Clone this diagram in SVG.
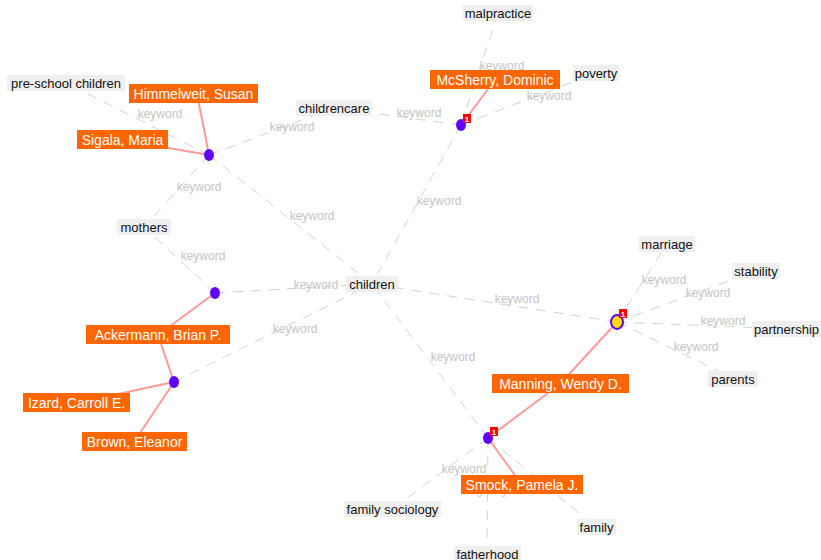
<svg xmlns="http://www.w3.org/2000/svg" width="821" height="560" viewBox="0 0 821 560">
<style>
.kw line{stroke:#d2d2d2;stroke-width:1;stroke-dasharray:10 8;fill:none}
.el{font-family:"Liberation Sans",Arial,sans-serif;font-size:12px;fill:#c4c4c4;text-anchor:middle}
.pl{stroke:#ff9a9a;stroke-width:2;fill:none}
.hub{fill:#6000ff}
.kbg{fill:#efefef}
.kt{font-family:"Liberation Sans",Arial,sans-serif;font-size:13px;fill:#111;text-anchor:middle}
.pbg{fill:#ff6600}
.pt{font-family:"Liberation Sans",Arial,sans-serif;font-size:14px;fill:#fff;text-anchor:middle}
.bd{fill:#ff0000}
.bt{font-family:"Liberation Sans",Arial,sans-serif;font-size:8px;font-weight:bold;fill:#fff;text-anchor:middle}
</style>
<rect width="821" height="560" fill="#fff"/>
<g id="connectors">
<g class="kw">
<line x1="209" y1="155" x2="66" y2="83"/>
<line x1="209" y1="155" x2="334" y2="108"/>
<line x1="209" y1="155" x2="144" y2="227"/>
<line x1="209" y1="155" x2="372" y2="284"/>
<line x1="461" y1="125" x2="498" y2="13"/>
<line x1="461" y1="125" x2="596" y2="73"/>
<line x1="461" y1="125" x2="334" y2="108"/>
<line x1="461" y1="125" x2="372" y2="284"/>
<line x1="215" y1="293" x2="144" y2="227"/>
<line x1="215" y1="293" x2="372" y2="284"/>
<line x1="174" y1="382" x2="372" y2="284"/>
<line x1="617" y1="322" x2="372" y2="284"/>
<line x1="617" y1="322" x2="667" y2="244"/>
<line x1="617" y1="322" x2="756" y2="271"/>
<line x1="617" y1="322" x2="786" y2="329"/>
<line x1="617" y1="322" x2="733" y2="378"/>
<line x1="488" y1="438" x2="372" y2="284"/>
<line x1="488" y1="438" x2="392" y2="509"/>
<line x1="488" y1="438" x2="596" y2="527"/>
<line x1="488" y1="438" x2="487" y2="553"/>
</g>
<g>
<text class="el" x="160" y="118">keyword</text>
<text class="el" x="292" y="131">keyword</text>
<text class="el" x="199" y="191">keyword</text>
<text class="el" x="312" y="220">keyword</text>
<text class="el" x="502" y="70">keyword</text>
<text class="el" x="549" y="100">keyword</text>
<text class="el" x="419" y="117">keyword</text>
<text class="el" x="439" y="205">keyword</text>
<text class="el" x="203" y="260">keyword</text>
<text class="el" x="316" y="289">keyword</text>
<text class="el" x="295" y="333">keyword</text>
<text class="el" x="517" y="303">keyword</text>
<text class="el" x="664" y="284">keyword</text>
<text class="el" x="708" y="297">keyword</text>
<text class="el" x="723" y="325">keyword</text>
<text class="el" x="696" y="351">keyword</text>
<text class="el" x="453" y="361">keyword</text>
<text class="el" x="464" y="473">keyword</text>
<text class="el" x="512" y="494">keyword</text>
<text class="el" x="488" y="494">keyword</text>
</g>
<g>
<line class="pl" x1="209" y1="155" x2="197" y2="94"/>
<line class="pl" x1="209" y1="155" x2="122" y2="140"/>
<line class="pl" x1="461" y1="125" x2="495" y2="80"/>
<line class="pl" x1="215" y1="293" x2="158" y2="335"/>
<line class="pl" x1="174" y1="382" x2="158" y2="335"/>
<line class="pl" x1="174" y1="382" x2="76" y2="403"/>
<line class="pl" x1="174" y1="382" x2="134" y2="442"/>
<line class="pl" x1="617" y1="322" x2="560" y2="384"/>
<line class="pl" x1="488" y1="438" x2="560" y2="384"/>
<line class="pl" x1="488" y1="438" x2="522" y2="485"/>
</g>
</g>
<g id="hub1"><ellipse class="hub" cx="209" cy="155" rx="5" ry="6"/></g>
<g id="hub2"><ellipse class="hub" cx="461" cy="125" rx="5" ry="6"/></g>
<g id="hub3"><ellipse class="hub" cx="215" cy="293" rx="5" ry="6"/></g>
<g id="hub4"><ellipse class="hub" cx="174" cy="382" rx="5" ry="6"/></g>
<g id="hub5"><ellipse cx="617" cy="322" rx="6" ry="7" fill="#ffdd00" stroke="#6000ff" stroke-width="2"/></g>
<g id="hub6"><ellipse class="hub" cx="488" cy="438" rx="5" ry="6"/></g>
<g id="kw-preschool"><rect class="kbg" x="7" y="75" width="118" height="16"/><text class="kt" x="66" y="87.5">pre-school children</text></g>
<g id="kw-childrencare"><rect class="kbg" x="296" y="100" width="76" height="16"/><text class="kt" x="334" y="112.5">childrencare</text></g>
<g id="kw-malpractice"><rect class="kbg" x="463" y="5" width="70" height="16"/><text class="kt" x="498" y="17.5">malpractice</text></g>
<g id="kw-poverty"><rect class="kbg" x="573" y="65" width="46" height="16"/><text class="kt" x="596" y="77.5">poverty</text></g>
<g id="kw-mothers"><rect class="kbg" x="117" y="219" width="54" height="16"/><text class="kt" x="144" y="231.5">mothers</text></g>
<g id="kw-children"><rect class="kbg" x="346" y="276" width="52" height="16"/><text class="kt" x="372" y="288.5">children</text></g>
<g id="kw-marriage"><rect class="kbg" x="639" y="236" width="56" height="16"/><text class="kt" x="667" y="248.5">marriage</text></g>
<g id="kw-stability"><rect class="kbg" x="732" y="263" width="48" height="16"/><text class="kt" x="756" y="275.5">stability</text></g>
<g id="kw-partnership"><rect class="kbg" x="752" y="321" width="69" height="16"/><text class="kt" x="786.5" y="333.5">partnership</text></g>
<g id="kw-parents"><rect class="kbg" x="708" y="371" width="50" height="16"/><text class="kt" x="733" y="383.5">parents</text></g>
<g id="kw-familysociology"><rect class="kbg" x="344" y="501" width="97" height="16"/><text class="kt" x="392.5" y="513.5">family sociology</text></g>
<g id="kw-family"><rect class="kbg" x="577" y="519" width="39" height="16"/><text class="kt" x="596.5" y="531.5">family</text></g>
<g id="kw-fatherhood"><rect class="kbg" x="454" y="546" width="67" height="16"/><text class="kt" x="487.5" y="558.5">fatherhood</text></g>
<g id="p-himmelweit"><rect class="pbg" x="129" y="84" width="129" height="19"/><text class="pt" x="193.5" y="98.5">Himmelweit, Susan</text></g>
<g id="p-sigala"><rect class="pbg" x="77" y="130" width="91" height="19"/><text class="pt" x="122.5" y="144.5">Sigala, Maria</text></g>
<g id="p-mcsherry"><rect class="pbg" x="430" y="70" width="130" height="19"/><text class="pt" x="495" y="84.5">McSherry, Dominic</text></g>
<g id="p-ackermann"><rect class="pbg" x="86" y="325" width="144" height="19"/><text class="pt" x="158" y="339.5">Ackermann, Brian P.</text></g>
<g id="p-izard"><rect class="pbg" x="23" y="393" width="107" height="19"/><text class="pt" x="76.5" y="407.5">Izard, Carroll E.</text></g>
<g id="p-brown"><rect class="pbg" x="82" y="432" width="105" height="19"/><text class="pt" x="134.5" y="446.5">Brown, Eleanor</text></g>
<g id="p-manning"><rect class="pbg" x="492" y="374" width="137" height="19"/><text class="pt" x="560.5" y="388.5">Manning, Wendy D.</text></g>
<g id="p-smock"><rect class="pbg" x="461" y="475" width="122" height="19"/><text class="pt" x="522" y="489.5">Smock, Pamela J.</text></g>
<g id="badge2"><rect class="bd" x="463" y="114" width="8" height="9"/><text class="bt" x="467" y="121.5">1</text></g>
<g id="badge5"><rect class="bd" x="619" y="309" width="8" height="9"/><text class="bt" x="623" y="316.5">1</text></g>
<g id="badge6"><rect class="bd" x="490" y="427" width="8" height="9"/><text class="bt" x="494" y="434.5">1</text></g>
</svg>
